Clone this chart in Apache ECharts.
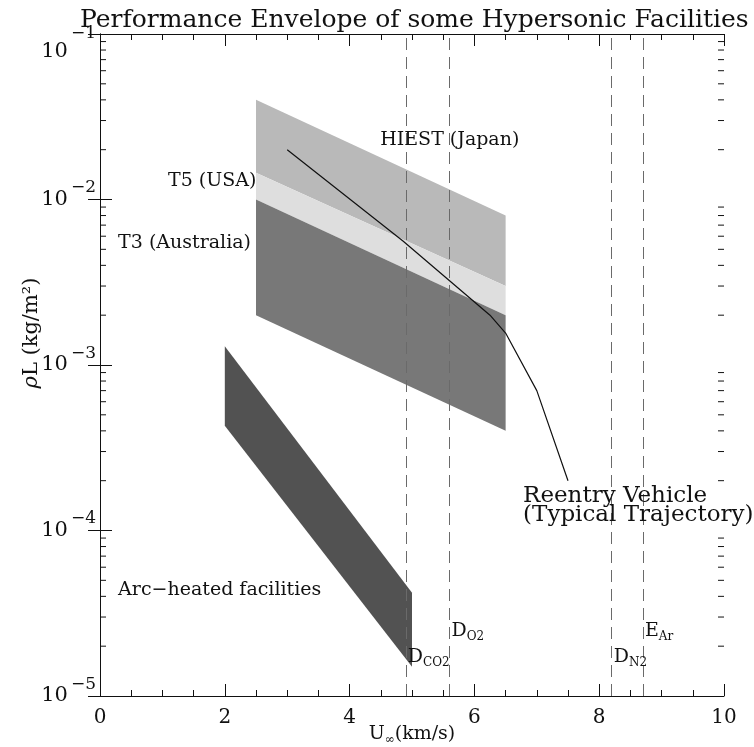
<!DOCTYPE html>
<html>
<head>
<meta charset="utf-8">
<script src="https://cdn.jsdelivr.net/npm/echarts@6/dist/echarts.min.js"></script>
<style>
  html, body { margin: 0; padding: 0; background: #ffffff; }
  #chart { width: 754px; height: 747px; }
</style>
</head>
<body>
<div id="chart"></div>
<script>
// Facility envelopes: [U start, U end, upper at start, upper at end, lower at start, lower at end]
const hiestBand = [2.5, 6.5, 0.040, 0.008, 0.0145, 0.003];
const t5Band    = [2.5, 6.5, 0.0145, 0.003, 0.010, 0.002];
const t3Band    = [2.5, 6.5, 0.010, 0.002, 0.002, 0.0004];
const arcBand   = [2.0, 5.0, 0.0013, 0.000042, 0.00043, 0.000015];

// Typical reentry trajectory [U (km/s), rho*L (kg/m^2)]
const trajectory = [[3.0, 0.020], [4.86, 0.0056], [6.25, 0.0020], [6.5, 0.00156], [7.0, 0.0007], [7.5, 0.0002]];

// Dissociation / ionisation velocities
const dissociationU = [4.9, 5.6, 8.2, 8.7];
const dissociationSymbol = ['D', 'D', 'D', 'E'];
const dissociationSpecies = ['CO2', 'O2', 'N2', 'Ar'];
const dissociationLabelY = [1.72e-5, 2.47e-5, 1.72e-5, 2.47e-5];

// Facility names and where they are written [text, U, rho*L]
const bandLabels = [
  ['HIEST (Japan)', 4.49, 0.0229],
  ['T5 (USA)', 1.09, 0.01294],
  ['T3 (Australia)', 0.29, 0.00545],
  ['Arc\u2212heated facilities', 0.29, 4.36e-5]
];
const trajectoryLabels = [
  ['Reentry Vehicle', 6.78, 1.62e-4],
  ['(Typical Trajectory)', 6.78, 1.24e-4]
];

const xTickStep = 2;
const xRange = [0, 10];
const yRange = [1e-5, 1e-1];

const SERIF = '"DejaVu Serif", "Liberation Serif", serif';
const INK = '#111111';

// stippled-grey shades of the four envelopes
const bandFills = ['#b9b9b9', '#dedede', '#787878', '#525252'];

// log-axis minor tick values (2..9 within each decade)
const minorValues = [];
for (let e = -5; e < -1; e++) {
  for (let m = 2; m <= 9; m++) minorValues.push([xRange[0], m * Math.pow(10, e)]);
}

function bandItem(params, api) {
  const x0 = api.value(0), x1 = api.value(1);
  const pts = [
    api.coord([x0, api.value(2)]),
    api.coord([x1, api.value(3)]),
    api.coord([x1, api.value(5)]),
    api.coord([x0, api.value(4)])
  ];
  return { type: 'polygon', shape: { points: pts }, style: { fill: bandFills[params.dataIndex] } };
}

function minorTickItem(params, api) {
  const p = api.coord([api.value(0), api.value(1)]);
  const cs = params.coordSys;
  const xl = cs.x, xr = cs.x + cs.width;
  return {
    type: 'group',
    children: [
      { type: 'line', shape: { x1: xl, y1: p[1], x2: xl + 6, y2: p[1] }, style: { stroke: INK, lineWidth: 1 } },
      { type: 'line', shape: { x1: xr, y1: p[1], x2: xr - 6, y2: p[1] }, style: { stroke: INK, lineWidth: 1 } }
    ]
  };
}

// "10" with a raised exponent; the topmost label sits below its tick, under the title
function supLabel(v) {
  const e = Math.round(Math.log10(v));
  if (v >= yRange[1]) return '{bt|10}{st|\u2212' + (-e) + '}';
  return '{b|10}{s|\u2212' + (-e) + '}';
}

const xAxisBase = {
  type: 'value',
  min: xRange[0],
  max: xRange[1],
  interval: xTickStep,
  axisLine: { show: true, lineStyle: { color: INK, width: 1 } },
  axisTick: { show: true, inside: true, length: 12, lineStyle: { color: INK } },
  minorTick: { show: true, splitNumber: 4, length: 6, lineStyle: { color: INK } },
  splitLine: { show: false },
  minorSplitLine: { show: false }
};

const yAxisBase = {
  type: 'log',
  logBase: 10,
  min: yRange[0],
  max: yRange[1],
  axisLine: { show: true, lineStyle: { color: INK, width: 1 } },
  axisTick: { show: true, inside: true, length: 12, lineStyle: { color: INK } },
  splitLine: { show: false }
};

const labelSeriesBase = {
  type: 'scatter',
  symbolSize: 0,
  silent: true,
  z: 6,
  itemStyle: { opacity: 1 }
};

const chart = echarts.init(document.getElementById('chart'), null, { renderer: 'canvas' });

chart.setOption({
  animation: false,
  backgroundColor: '#ffffff',
  title: {
    text: 'Performance Envelope of some Hypersonic Facilities',
    left: 75,
    top: 3,
    textStyle: { fontFamily: SERIF, fontSize: 25, fontWeight: 'normal', color: INK }
  },
  grid: { left: 100, right: 30, top: 34, bottom: 51, containLabel: false, outerBoundsMode: 'none' },
  xAxis: [
    Object.assign({}, xAxisBase, {
      position: 'bottom',
      name: '{a|U}{i|\u221e}{a|(km/s)}',
      nameLocation: 'middle',
      nameGap: 26,
      nameMoveOverlap: false,
      nameTextStyle: {
        rich: {
          a: { fontFamily: SERIF, fontSize: 19, color: INK, lineHeight: 24 },
          i: { fontFamily: SERIF, fontSize: 12, color: INK, verticalAlign: 'bottom', lineHeight: 14 }
        }
      },
      axisLabel: { show: true, margin: 12, fontFamily: SERIF, fontSize: 20, color: INK }
    }),
    Object.assign({}, xAxisBase, { position: 'top', axisLabel: { show: false } })
  ],
  yAxis: [
    Object.assign({}, yAxisBase, {
      position: 'left',
      name: '{r|\u03c1}{a|L (kg/m\u00b2)}',
      nameLocation: 'middle',
      nameGap: 58,
      nameMoveOverlap: false,
      nameRotate: 90,
      nameTextStyle: {
        padding: [0, 0, 0, 64],
        rich: {
          r: { fontFamily: SERIF, fontSize: 21, fontStyle: 'italic', color: INK },
          a: { fontFamily: SERIF, fontSize: 21, color: INK }
        }
      },
      axisLabel: {
        show: true,
        margin: 4,
        formatter: supLabel,
        rich: {
          b: { fontFamily: SERIF, fontSize: 21, color: INK, lineHeight: 40 },
          s: { fontFamily: SERIF, fontSize: 17, color: INK, lineHeight: 18, verticalAlign: 'top', padding: [0, 0, 0, 3] },
          bt: { fontFamily: SERIF, fontSize: 21, color: INK, lineHeight: 20, verticalAlign: 'bottom' },
          st: { fontFamily: SERIF, fontSize: 17, color: INK, lineHeight: 56, verticalAlign: 'middle', padding: [0, 0, 0, 3] }
        }
      }
    }),
    Object.assign({}, yAxisBase, { position: 'right', axisLabel: { show: false } })
  ],
  series: [
    {
      name: 'envelopes',
      type: 'custom',
      renderItem: bandItem,
      encode: { x: [0, 1], y: [2, 3, 4, 5] },
      z: 1,
      silent: true,
      data: [hiestBand, t5Band, t3Band, arcBand]
    },
    {
      name: 'log minor ticks',
      type: 'custom',
      renderItem: minorTickItem,
      encode: { x: 0, y: 1 },
      z: 5,
      silent: true,
      data: minorValues
    },
    {
      name: 'trajectory',
      type: 'line',
      data: trajectory,
      symbol: 'none',
      z: 4,
      silent: true,
      lineStyle: { color: '#111111', width: 1.2 },
      markLine: {
        silent: true,
        symbol: 'none',
        label: { show: false },
        lineStyle: { color: '#6a6a6a', width: 1, type: [12, 7] },
        data: dissociationU.map(u => ({ xAxis: u }))
      }
    },
    Object.assign({}, labelSeriesBase, {
      name: 'dissociation labels',
      data: dissociationU.map((u, i) => ({
        value: [u, dissociationLabelY[i]],
        label: { formatter: '{m|' + dissociationSymbol[i] + '}{s|' + dissociationSpecies[i] + '}' }
      })),
      label: {
        show: true,
        position: 'right',
        distance: 2,
        opacity: 1,
        rich: {
          m: { fontFamily: SERIF, fontSize: 19, color: INK, lineHeight: 24 },
          s: { fontFamily: SERIF, fontSize: 12, color: INK, verticalAlign: 'bottom', lineHeight: 16 }
        }
      }
    }),
    Object.assign({}, labelSeriesBase, {
      name: 'facility labels',
      data: bandLabels.map(l => ({ value: [l[1], l[2]], name: l[0] })),
      label: {
        show: true,
        position: 'right',
        distance: 0,
        opacity: 1,
        formatter: '{b}',
        fontFamily: SERIF,
        fontSize: 19,
        color: INK
      }
    }),
    Object.assign({}, labelSeriesBase, {
      name: 'trajectory labels',
      data: trajectoryLabels.map(l => ({ value: [l[1], l[2]], name: l[0] })),
      label: {
        show: true,
        position: 'right',
        distance: 0,
        opacity: 1,
        formatter: '{b}',
        fontFamily: SERIF,
        fontSize: 23,
        color: INK
      }
    })
  ]
});
</script>
</body>
</html>
